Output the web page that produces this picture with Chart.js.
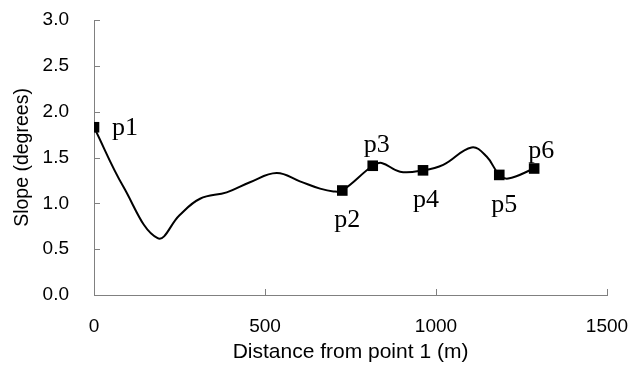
<!DOCTYPE html>
<html>
<head>
<meta charset="utf-8">
<script src="https://cdn.jsdelivr.net/npm/chart.js@4.4.1/dist/chart.umd.min.js"></script>
<style>
  html, body { margin: 0; padding: 0; background: #fff; }
  #wrap { width: 635px; height: 378px; position: relative; }
</style>
</head>
<body>
<div id="wrap"><canvas id="slopeChart"></canvas></div>
<script>
// smoothed slope profile
const distance = [0, 86, 186, 250, 310, 388, 456, 534, 602, 661, 700, 726, 815, 841, 895, 962, 1021, 1104, 1148, 1185, 1211, 1287];
const slope = [1.83, 1.18, 0.62, 0.87, 1.05, 1.12, 1.23, 1.33, 1.24, 1.16, 1.13, 1.14, 1.41, 1.44, 1.345, 1.36, 1.42, 1.61, 1.51, 1.31, 1.27, 1.38];

// measured points
const pointNames = ["p1", "p2", "p3", "p4", "p5", "p6"];
const pointDistance = [0, 726, 815, 962, 1185, 1287];
const pointSlope = [1.83, 1.14, 1.41, 1.36, 1.31, 1.38];

const xTicks = [0, 500, 1000, 1500];
const yTicks = [0, 0.5, 1.0, 1.5, 2.0, 2.5, 3.0];

// label placement, offset from marker centre (dx = centre of text, dy = baseline)
const labelOffsets = [
    { dx: 31, dy: 8 },
    { dx: 5, dy: 36 },
    { dx: 4, dy: -14 },
    { dx: 3, dy: 37 },
    { dx: 5, dy: 37 },
    { dx: 7, dy: -11 }
];

const axisColor = "#808080";
const sans = "'Liberation Sans', Arial, sans-serif";

const insideTicks = {
    id: "insideTicks",
    afterDraw(chart) {
        const { ctx, scales: { x, y } } = chart;
        ctx.save();
        ctx.strokeStyle = axisColor;
        ctx.lineWidth = 1;
        ctx.beginPath();
        yTicks.forEach(v => {
            const py = Math.round(y.getPixelForValue(v)) + 0.5;
            ctx.moveTo(x.left, py);
            ctx.lineTo(x.left + 6, py);
        });
        xTicks.forEach(v => {
            const px = Math.round(x.getPixelForValue(v)) + 0.5;
            ctx.moveTo(px, y.bottom);
            ctx.lineTo(px, y.bottom - 6);
        });
        ctx.stroke();

        ctx.fillStyle = "#000";
        ctx.font = "26px 'Liberation Serif', 'Times New Roman', serif";
        ctx.textAlign = "center";
        ctx.textBaseline = "alphabetic";
        pointNames.forEach((name, i) => {
            const px = x.getPixelForValue(pointDistance[i]);
            const py = y.getPixelForValue(pointSlope[i]);
            ctx.fillText(name, px + labelOffsets[i].dx, py + labelOffsets[i].dy);
        });
        ctx.restore();
    }
};

const ctx = document.getElementById("slopeChart").getContext("2d");
new Chart(ctx, {
    type: "scatter",
    data: {
        datasets: [
            {
                label: "Slope",
                data: distance.map((d, i) => ({ x: d, y: slope[i] })),
                showLine: true,
                borderColor: "#000",
                borderWidth: 2,
                tension: 0.4,
                pointRadius: 0,
                fill: false,
                order: 2
            },
            {
                label: "Points",
                data: pointDistance.map((d, i) => ({ x: d, y: pointSlope[i] })),
                showLine: false,
                pointStyle: "rect",
                pointRadius: 7.5,
                backgroundColor: "#000",
                borderColor: "#000",
                borderWidth: 0,
                order: 1
            }
        ]
    },
    options: {
        responsive: true,
        maintainAspectRatio: false,
        animation: false,
        layout: { autoPadding: false, padding: { top: 20, right: 28, left: 0, bottom: 0 } },
        plugins: {
            legend: { display: false },
            tooltip: { enabled: false }
        },
        scales: {
            x: {
                type: "linear",
                min: 0,
                max: 1500,
                grid: { display: false, drawTicks: false },
                border: { display: true, color: axisColor, width: 1 },
                afterBuildTicks: s => { s.ticks = xTicks.map(v => ({ value: v })); },
                afterFit: s => {
                    s.height = 83;
                    s.paddingLeft = 0;
                    s.paddingRight = 0;
                },
                ticks: {
                    color: "#000",
                    padding: 20,
                    maxRotation: 0,
                    callback: v => String(v),
                    font: { family: sans, size: 19 }
                },
                title: {
                    display: true,
                    text: "Distance from point 1 (m)",
                    color: "#000",
                    padding: { top: 0, bottom: 13 },
                    font: { family: sans, size: 21 }
                }
            },
            y: {
                type: "linear",
                min: 0,
                max: 3,
                grid: { display: false, drawTicks: false },
                border: { display: true, color: axisColor, width: 1 },
                afterBuildTicks: s => { s.ticks = yTicks.map(v => ({ value: v })); },
                afterFit: s => {
                    s.width = 94;
                    s.paddingTop = 0;
                    s.paddingBottom = 0;
                },
                ticks: {
                    color: "#000",
                    padding: 25,
                    callback: v => v.toFixed(1),
                    font: { family: sans, size: 19 }
                },
                title: {
                    display: true,
                    text: "Slope (degrees)",
                    color: "#000",
                    padding: { top: 11, bottom: 0 },
                    font: { family: sans, size: 19.5 }
                }
            }
        }
    },
    plugins: [insideTicks]
});
</script>
</body>
</html>
